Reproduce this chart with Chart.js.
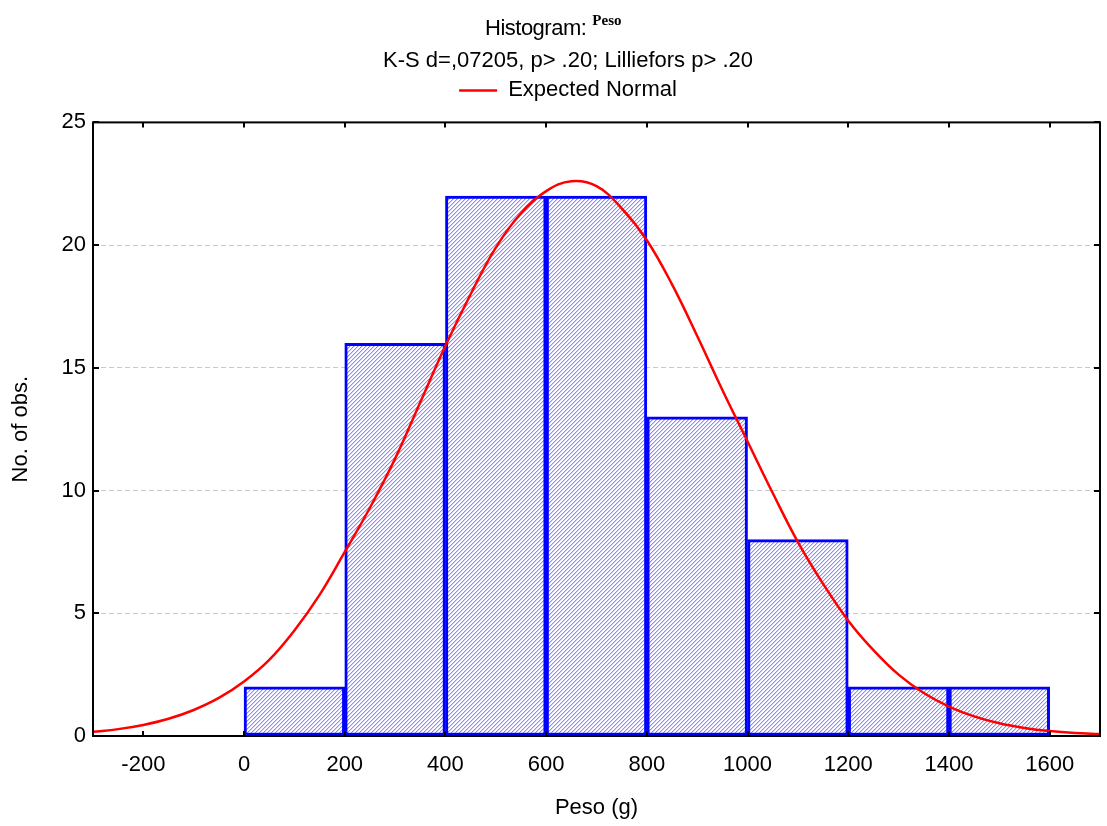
<!DOCTYPE html>
<html>
<head>
<meta charset="utf-8">
<script src="https://cdn.jsdelivr.net/npm/chart.js@4.4.1/dist/chart.umd.min.js"></script>
<style>
  body { margin: 0; background: #fff; }
  #wrap { position: relative; width: 1107px; height: 826px; }
  #head {
    position: absolute; left: 485px; top: 12px;
    font: 22px 'Liberation Sans', Arial, sans-serif; line-height: 22px;
    white-space: nowrap; color: #000; letter-spacing: -0.5px;
  }
  #head span { font: bold 15px 'Liberation Serif', serif; vertical-align: 10px; margin-left: 6px; letter-spacing: 0; }
</style>
</head>
<body>
<div id="wrap">
  <canvas id="myChart" width="1107" height="826"></canvas>
  <div id="head">Histogram:<span>Peso</span></div>
</div>
<script>
    // histogram bins (centre of each 200 g class) and counts
    const binCenters = [100, 300, 500, 700, 900, 1100, 1300, 1500];
    const counts = [2, 16, 22, 22, 13, 8, 2, 2];

    // x axis tick labels
    const xTicks = [-200, 0, 200, 400, 600, 800, 1000, 1200, 1400, 1600];

    // expected normal curve
    const curveX = [-300, -250, -200, -150, -100, -50, 0, 50, 100, 150, 200, 250, 300, 350, 400, 450, 500,
                    550, 600, 650, 700, 750, 800, 850, 900, 950, 1000, 1050, 1100, 1150, 1200, 1250,
                    1300, 1350, 1400, 1450, 1500, 1550, 1600, 1650, 1700];
    const curveY = [0.17, 0.28, 0.45, 0.7, 1.06, 1.55, 2.22, 3.1, 4.3, 5.75, 7.5, 9.3, 11.3, 13.6, 15.9, 18.0, 19.9,
                    21.3, 22.2, 22.6, 22.4, 21.5, 20.2, 18.4, 16.3, 14.1, 12.0, 9.9, 7.9, 6.2, 4.7, 3.5,
                    2.5, 1.75, 1.2, 0.8, 0.52, 0.33, 0.2, 0.12, 0.08];

    const fontName = "'Liberation Sans', Arial, sans-serif";

    // blue diagonal hatch used by Statistica bars
    function hatch() {
        const c = document.createElement('canvas');
        c.width = 4; c.height = 4;
        const g = c.getContext('2d');
        g.fillStyle = '#ffffff';
        g.fillRect(0, 0, 4, 4);
        for (let i = 0; i < 4; i++) {
            g.fillStyle = '#8a8aff';
            g.fillRect(i, 3 - i, 1, 1);
            g.fillStyle = '#d4d4ff';
            g.fillRect((i + 1) % 4, 3 - i, 1, 1);
        }
        return g.createPattern(c, 'repeat');
    }

    // box round the plot with small inward ticks
    const framePlugin = {
        id: 'frame',
        afterDatasetsDraw(chart) {
            const {ctx, chartArea: a, scales} = chart;
            ctx.save();
            ctx.strokeStyle = '#000';
            ctx.lineWidth = 2;
            ctx.strokeRect(a.left, a.top, a.right - a.left, a.bottom - a.top);
            ctx.beginPath();
            scales.x.ticks.forEach(t => {
                const px = Math.round(scales.x.getPixelForValue(t.value));
                ctx.moveTo(px, a.bottom); ctx.lineTo(px, a.bottom - 5);
                ctx.moveTo(px, a.top); ctx.lineTo(px, a.top + 5);
            });
            scales.y.ticks.forEach(t => {
                const py = Math.round(scales.y.getPixelForValue(t.value));
                ctx.moveTo(a.left, py); ctx.lineTo(a.left + 6, py);
                ctx.moveTo(a.right, py); ctx.lineTo(a.right - 6, py);
            });
            ctx.stroke();
            ctx.restore();
        }
    };

    var ctx = document.getElementById('myChart').getContext('2d');

    var histChart = new Chart(ctx, {
        data: {
            datasets: [
                {
                    type: 'line',
                    label: 'Expected Normal',
                    data: curveX.map((value, index) => ({ x: value, y: curveY[index] })),
                    borderColor: '#ff0000',
                    backgroundColor: '#ff0000',
                    borderWidth: 2.5,
                    pointRadius: 0,
                    tension: 0.4,
                    fill: false,
                    order: 0
                },
                {
                    type: 'bar',
                    label: 'Peso',
                    data: binCenters.map((value, index) => ({ x: value, y: counts[index] })),
                    backgroundColor: hatch(),
                    borderColor: '#0000ff',
                    borderWidth: 3,
                    borderSkipped: false,
                    barPercentage: 1,
                    categoryPercentage: 1,
                    order: 1
                }
            ]
        },
        options: {
            responsive: false,
            animation: false,
            layout: { padding: { top: 36, left: 36, right: 7, bottom: 0 } },
            plugins: {
                title: {
                    display: true,
                    text: 'K-S d=,07205, p> .20; Lilliefors p> .20',
                    color: '#000',
                    font: { family: fontName, size: 22, weight: 'normal' },
                    padding: { top: 12, bottom: 0 }
                },
                legend: {
                    display: true,
                    labels: {
                        color: '#000',
                        font: { family: fontName, size: 22 },
                        usePointStyle: true,
                        pointStyle: 'line',
                        pointStyleWidth: 38,
                        padding: 5,
                        filter: item => item.text === 'Expected Normal'
                    }
                },
                tooltip: { enabled: false }
            },
            scales: {
                x: {
                    type: 'linear',
                    position: 'bottom',
                    min: -300,
                    max: 1700,
                    offset: false,
                    afterBuildTicks: s => { s.ticks = xTicks.map(v => ({ value: v })); },
                    afterFit: s => { s.height = 90; },
                    ticks: {
                        color: '#000',
                        padding: 16,
                        maxRotation: 0,
                        autoSkip: false,
                        font: { family: fontName, size: 22 },
                        callback: v => String(v)
                    },
                    grid: { display: false, drawTicks: false, offset: false },
                    border: { display: false },
                    title: {
                        display: true,
                        text: 'Peso (g)',
                        color: '#000',
                        font: { family: fontName, size: 22 },
                        padding: { top: 0, bottom: 5 }
                    }
                },
                xTop: {
                    type: 'linear',
                    position: 'top',
                    min: -300,
                    max: 1700,
                    afterFit: s => { s.height = 11; },
                    ticks: { display: false },
                    grid: { display: false, drawTicks: false },
                    border: { display: false }
                },
                y: {
                    min: 0,
                    max: 25,
                    afterFit: s => { s.width = 57; },
                    ticks: {
                        stepSize: 5,
                        color: '#000',
                        padding: 7,
                        font: { family: fontName, size: 22 }
                    },
                    grid: { color: '#c8c8c8', lineWidth: 1, drawTicks: false },
                    border: { display: false, dash: [5, 3] },
                    title: {
                        display: true,
                        text: 'No. of obs.',
                        color: '#000',
                        font: { family: fontName, size: 22 },
                        padding: { top: -28, bottom: 0 }
                    }
                }
            }
        },
        plugins: [framePlugin]
    });
</script>
</body>
</html>
